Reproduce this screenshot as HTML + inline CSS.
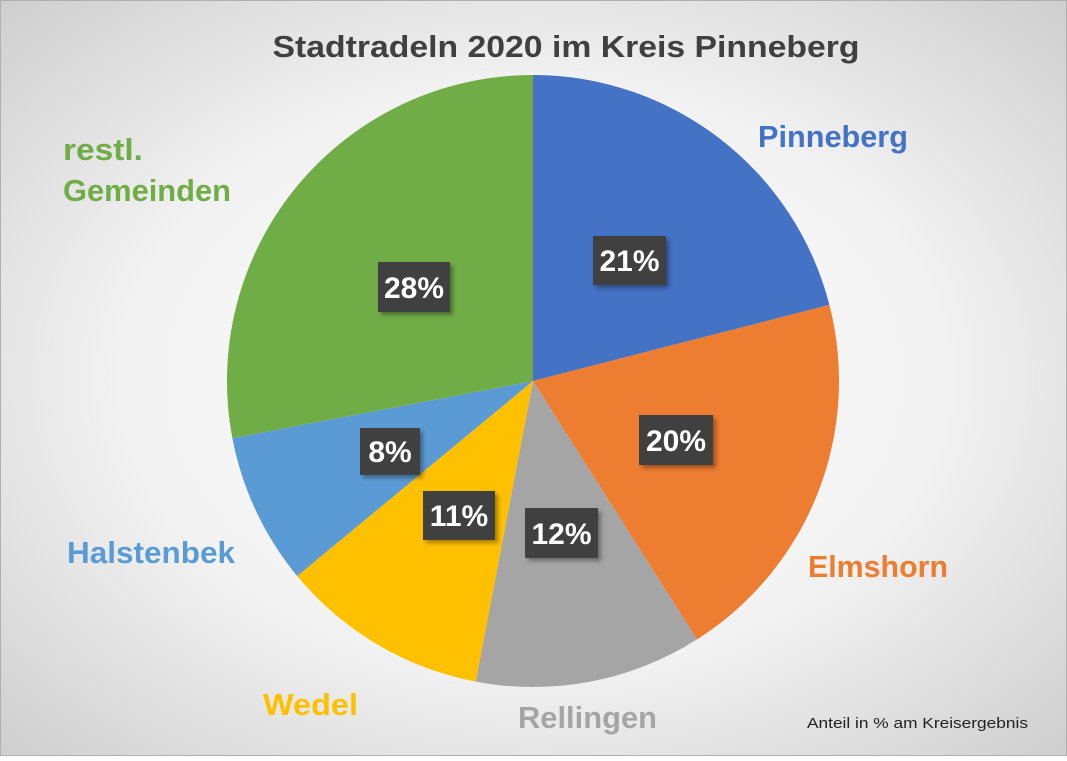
<!DOCTYPE html>
<html><head><meta charset="utf-8"><style>
html,body{margin:0;padding:0;}
body{width:1067px;height:756px;overflow:hidden;}
</style></head><body>
<svg width="1067" height="756" xmlns="http://www.w3.org/2000/svg" font-family="'Liberation Sans', sans-serif">
<defs>
<radialGradient id="bg" cx="0.5" cy="0.5" r="0.7">
<stop offset="0" stop-color="#ffffff"/>
<stop offset="0.55" stop-color="#f2f2f2"/>
<stop offset="1" stop-color="#cfcfcf"/>
</radialGradient>
<filter id="sh" x="-20%" y="-20%" width="150%" height="150%"><feDropShadow dx="3" dy="3" stdDeviation="2" flood-color="#000" flood-opacity="0.35"/></filter>
</defs>
<rect x="0" y="0" width="1067" height="756" fill="url(#bg)"/>
<rect x="0.5" y="0.5" width="1066" height="755" fill="none" stroke="#b0b0b0"/>
<text x="566" y="57" text-anchor="middle" font-size="31" font-weight="bold" fill="#404040" textLength="587" lengthAdjust="spacingAndGlyphs">Stadtradeln 2020 im Kreis Pinneberg</text>
<g>
<path d="M533,381 L533,75 A306,306 0 0 1 829.4,304.9 Z" fill="#4472c4"/>
<path d="M533,381 L829.4,304.9 A306,306 0 0 1 697.0,639.4 Z" fill="#ed7d31"/>
<path d="M533,381 L697.0,639.4 A306,306 0 0 1 475.7,681.6 Z" fill="#a5a5a5"/>
<path d="M533,381 L475.7,681.6 A306,306 0 0 1 297.2,576.0 Z" fill="#ffc000"/>
<path d="M533,381 L297.2,576.0 A306,306 0 0 1 232.4,438.3 Z" fill="#5b9bd5"/>
<path d="M533,381 L232.4,438.3 A306,306 0 0 1 533,75 Z" fill="#70ad47"/>
</g>
<g font-size="30" font-weight="bold" fill="#fff" text-anchor="middle">
<rect x="593" y="236" width="73" height="49" fill="#404040" filter="url(#sh)"/><text x="629.5" y="271">21%</text>
<rect x="378" y="262" width="72" height="50" fill="#404040" filter="url(#sh)"/><text x="414" y="298">28%</text>
<rect x="639" y="415" width="74" height="50" fill="#404040" filter="url(#sh)"/><text x="676" y="451">20%</text>
<rect x="525" y="508" width="73" height="50" fill="#404040" filter="url(#sh)"/><text x="561.5" y="544">12%</text>
<rect x="423" y="491" width="72" height="49" fill="#404040" filter="url(#sh)"/><text x="459" y="526">11%</text>
<rect x="360" y="428" width="60" height="47" fill="#404040" filter="url(#sh)"/><text x="390" y="462">8%</text>
</g>
<g font-size="31" font-weight="bold" lengthAdjust="spacingAndGlyphs">
<text x="758" y="147" fill="#4472c4" textLength="150" lengthAdjust="spacingAndGlyphs">Pinneberg</text>
<text x="808" y="577" fill="#ed7d31" textLength="140" lengthAdjust="spacingAndGlyphs">Elmshorn</text>
<text x="518" y="728" fill="#a5a5a5" textLength="139" lengthAdjust="spacingAndGlyphs">Rellingen</text>
<text x="263" y="715" fill="#ffc000" textLength="95" lengthAdjust="spacingAndGlyphs">Wedel</text>
<text x="67" y="563" fill="#5b9bd5" textLength="168" lengthAdjust="spacingAndGlyphs">Halstenbek</text>
<text x="63" y="160" fill="#70ad47" textLength="80" lengthAdjust="spacingAndGlyphs">restl.</text>
<text x="63" y="201" fill="#70ad47" textLength="168" lengthAdjust="spacingAndGlyphs">Gemeinden</text>
</g>
<text x="807" y="728" font-size="15" fill="#222" textLength="221" lengthAdjust="spacingAndGlyphs">Anteil in % am Kreisergebnis</text>
</svg>
</body></html>
